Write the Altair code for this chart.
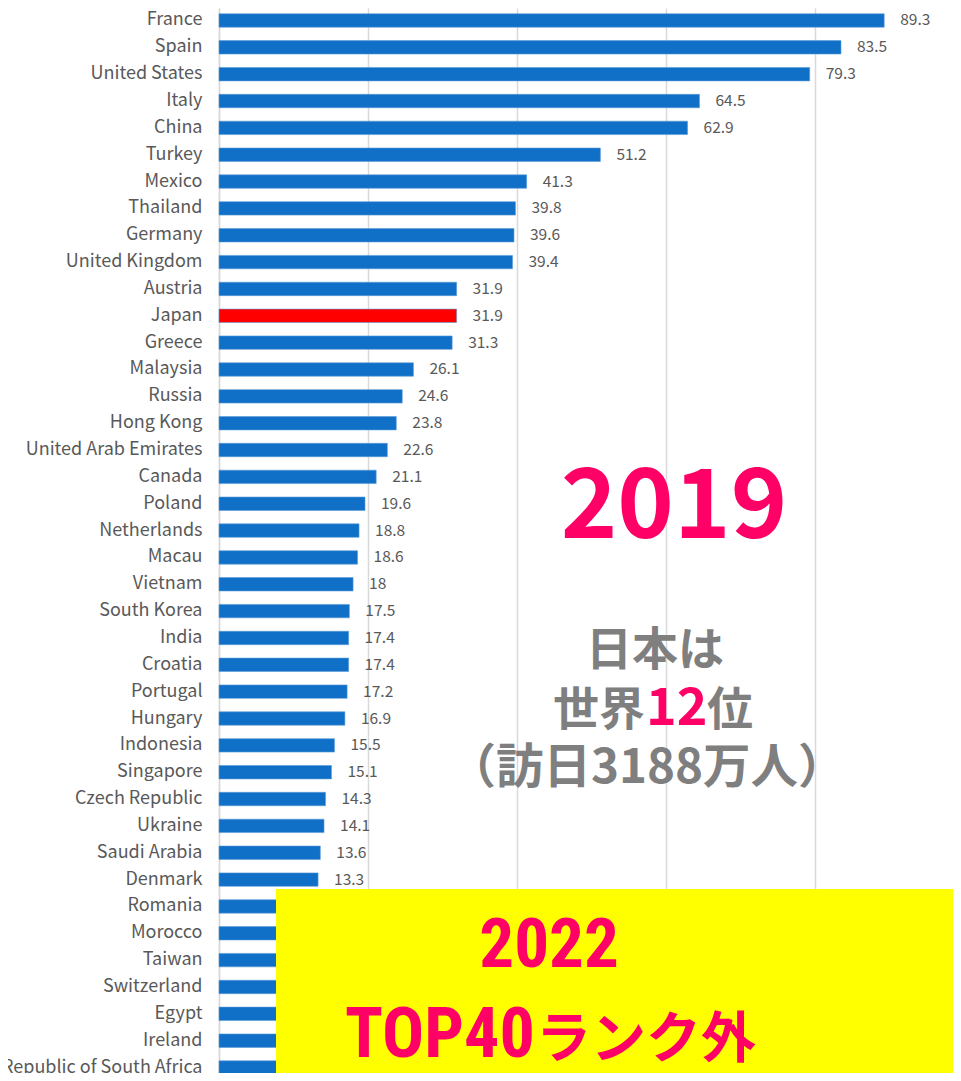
import altair as alt
import pandas as pd

countries = ["France", "Spain", "United States", "Italy", "China", "Turkey", "Mexico",
             "Thailand", "Germany", "United Kingdom", "Austria", "Japan", "Greece",
             "Malaysia", "Russia", "Hong Kong", "United Arab Emirates", "Canada", "Poland",
             "Netherlands", "Macau", "Vietnam", "South Korea", "India", "Croatia",
             "Portugal", "Hungary", "Indonesia", "Singapore", "Czech Republic", "Ukraine",
             "Saudi Arabia", "Denmark", "Romania", "Morocco", "Taiwan", "Switzerland",
             "Egypt", "Ireland", "Republic of South Africa"]
values = [89.3, 83.5, 79.3, 64.5, 62.9, 51.2, 41.3, 39.8, 39.6, 39.4, 31.9, 31.9, 31.3,
          26.1, 24.6, 23.8, 22.6, 21.1, 19.6, 18.8, 18.6, 18, 17.5, 17.4, 17.4, 17.2,
          16.9, 15.5, 15.1, 14.3, 14.1, 13.6, 13.3, 13.2, 12.9, 11.9, 11.8, 11.3, 10.9, 10.2]
# value labels visible in the picture (the last rows are hidden behind the yellow box)
labels = ["89.3", "83.5", "79.3", "64.5", "62.9", "51.2", "41.3", "39.8", "39.6", "39.4",
          "31.9", "31.9", "31.3", "26.1", "24.6", "23.8", "22.6", "21.1", "19.6", "18.8",
          "18.6", "18", "17.5", "17.4", "17.4", "17.2", "16.9", "15.5", "15.1", "14.3",
          "14.1", "13.6", "13.3", "", "", "", "", "", "", ""]
highlight = "Japan"

df = pd.DataFrame({"country": countries, "value": values, "label": labels})
df["hl"] = df["country"] == highlight

FONT = "Noto Sans CJK JP"
PINK = "#FF0066"
GRAY = "#7F7F7F"

y_enc = alt.Y("country:N", sort=None,
              scale=alt.Scale(paddingInner=0.5, paddingOuter=0.215),
              axis=alt.Axis(title=None, ticks=False, labelPadding=17, labelFontSize=18,
                            labelFont=FONT, labelColor="#595959", domain=True,
                            domainColor="#D9D9D9", domainWidth=1.5, labelLimit=300))
x_enc = alt.X("value:Q", scale=alt.Scale(domain=[0, 98], nice=False),
              axis=alt.Axis(title=None, values=[0, 20, 40, 60, 80], labels=False,
                            ticks=False, domain=False, grid=True, gridColor="#D9D9D9",
                            gridWidth=1.5))

base = alt.Chart(df)
bars = base.mark_bar(stroke="#5B9BD5", strokeWidth=0.6).encode(
    y=y_enc, x=x_enc,
    color=alt.condition(alt.datum.hl, alt.value("#FF0000"), alt.value("#1070C8")),
)
vals = base.mark_text(align="left", baseline="middle", dx=16, fontSize=15.5,
                      font=FONT, color="#595959").encode(y=y_enc, x=x_enc, text="label:N")

def txt(t, x, y, size, color, align="center", weight="bold", font=FONT):
    return alt.Chart(pd.DataFrame({"t": [t]})).mark_text(
        align=align, baseline="alphabetic", fontSize=size, fontWeight=weight,
        font=font, color=color).encode(text="t:N", x=alt.value(x), y=alt.value(y))

overlay = [
    txt("2019", 455, 530, 96, PINK),
    txt("日本は", 436, 657, 46, GRAY),
    txt("世界", 426, 717, 46, GRAY, align="right"),
    txt("12", 427, 717, 52, PINK, align="left"),
    txt("位", 488, 717, 46, GRAY, align="left"),
    txt("（訪日3188万人）", 428, 775, 47.5, GRAY),
]

box = alt.Chart(pd.DataFrame({"a": [0]})).mark_rect(color="#FFFF00").encode(
    x=alt.value(57), x2=alt.value(745), y=alt.value(881), y2=alt.value(1090))

NARROW = "Liberation Sans Narrow, Roboto Condensed, Liberation Sans, " + FONT
box_text = [
    txt("2022", 330, 959, 69, PINK, font=NARROW),
    txt("TOP40", 126, 1049, 70, PINK, align="left", font=NARROW),
    txt("ランク外", 317, 1049, 55, PINK, align="left"),
]

chart = alt.layer(bars, vals, *overlay, box, *box_text).properties(
    width=730, height=1072,
    padding={"left": 211, "top": 0, "right": 4, "bottom": -7},
    autosize=alt.AutoSizeParams(type="none"),
).configure_view(stroke=None)

chart.save("out.html", embed_options={"renderer": "svg", "actions": False})
